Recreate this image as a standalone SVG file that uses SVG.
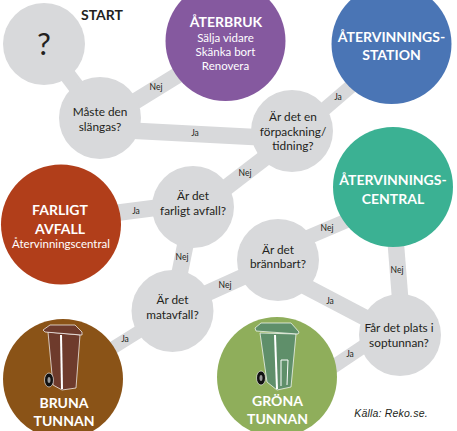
<svg xmlns="http://www.w3.org/2000/svg" width="457" height="431" viewBox="0 0 457 431">
<style>
text{font-family:Lato,"Open Sans","Liberation Sans",sans-serif;text-anchor:middle;fill:#231f20}
.q{font-size:11.800px}
.l{font-size:8.500px}
.t{font-size:14px;font-weight:700;fill:#fff}
.s{font-size:11.500px;fill:#fff}
.g{fill:#d8d9db}
.c line{stroke:#d8d9db;stroke-width:16.500}
.bin{stroke:#fff;stroke-width:.7}
.wheel{fill:#111;stroke:#fff;stroke-width:.6}
</style>
<rect width="457" height="431" fill="#fff"/>
<g id="connectors" class="c">
<line x1="44" y1="44" x2="100" y2="118"/>
<line x1="100" y1="123" x2="225" y2="46"/>
<line x1="100" y1="129" x2="292" y2="139"/>
<line x1="292" y1="137" x2="391" y2="52" style="stroke-width:14"/>
<line x1="292" y1="137" x2="193" y2="213"/>
<line x1="193" y1="203" x2="61" y2="220"/>
<line x1="193" y1="207" x2="172" y2="311"/>
<line x1="172" y1="309" x2="278" y2="261"/>
<line x1="172" y1="311" x2="63" y2="379" style="stroke-width:13"/>
<line x1="278" y1="250" x2="393" y2="201" style="stroke-width:14.500"/>
<line x1="278" y1="272" x2="400" y2="336"/>
<line x1="392" y1="195" x2="403" y2="335"/>
<line x1="385" y1="332" x2="300" y2="389" style="stroke-width:14"/>
</g>
<g id="start"><circle class="g" cx="44" cy="44" r="41"/><text x="44" y="55" style="font-size:31px">?</text><text x="102" y="20" style="font-size:14px;font-weight:700">START</text></g>
<g id="atervinningsstation"><circle cx="391.500" cy="44" r="60" fill="#4a75b5"/><text class="t" x="391.500" y="42">ÅTERVINNINGS-</text><text class="t" x="391.500" y="60">STATION</text></g>
<g id="aterbruk"><circle cx="225.500" cy="41" r="60" fill="#85599f"/><text class="t" x="226" y="27">ÅTERBRUK</text><text class="s" x="225.500" y="42">Sälja vidare</text><text class="s" x="225.500" y="56">Skänka bort</text><text class="s" x="225.500" y="70">Renovera</text></g>
<g id="maste"><circle class="g" cx="100" cy="118" r="41"/><text class="q" x="100" y="116">Måste den</text><text class="q" x="100" y="131">slängas?</text></g>
<g id="forpackning"><circle class="g" cx="292" cy="131" r="41"/><text class="q" x="293" y="121">Är det en</text><text class="q" x="293" y="136">förpackning/</text><text class="q" x="293" y="150">tidning?</text></g>
<g id="atervinningscentral"><circle cx="393" cy="187" r="60" fill="#3bb193"/><text class="t" x="393" y="185">ÅTERVINNINGS-</text><text class="t" x="393" y="204">CENTRAL</text></g>
<g id="farligt"><circle cx="61" cy="224.500" r="60" fill="#b13e1a"/><text class="t" x="60" y="215">FARLIGT</text><text class="t" x="60" y="234">AVFALL</text><text class="s" x="61" y="248">Återvinningscentral</text></g>
<g id="farligt-fraga"><circle class="g" cx="193" cy="207" r="41"/><text class="q" x="193" y="200">Är det</text><text class="q" x="193" y="215">farligt avfall?</text></g>
<g id="brannbart"><circle class="g" cx="278" cy="260" r="41"/><text class="q" x="278" y="254">Är det</text><text class="q" x="278" y="268">brännbart?</text></g>
<g id="matavfall"><circle class="g" cx="172.500" cy="311" r="41"/><text class="q" x="172.500" y="304">Är det</text><text class="q" x="172.500" y="319">matavfall?</text></g>
<g id="plats"><circle class="g" cx="400" cy="335" r="41"/><text class="q" x="399" y="332">Får det plats i</text><text class="q" x="399" y="347">soptunnan?</text></g>
<g id="bruna"><circle cx="63" cy="379" r="60" fill="#8a5317"/>
<path class="bin" d="M48 332L80 335L76 388L62 390L53 385Z" fill="#6e3b2c"/>
<path class="bin" d="M43 330L50 325L75 325L82 332L82 335L45 332Z" fill="#6e3b2c"/>
<line x1="61" y1="335" x2="62" y2="389" stroke="#fff" stroke-width="2"/>
<ellipse class="wheel" cx="49" cy="380" rx="4.500" ry="7"/>
<ellipse cx="49" cy="380" rx="1.500" ry="3" fill="#999"/>
<text class="t" x="64" y="408">BRUNA</text><text class="t" x="64" y="426">TUNNAN</text></g>
<g id="grona"><circle cx="277" cy="377" r="60" fill="#8fae5b"/>
<path class="bin" d="M260 333L296 334L291 387L277 390L267 382Z" fill="#5f8f6a"/>
<path class="bin" d="M255 328L261 323L291 323L299 332L298 334L256 331Z" fill="#5f8f6a"/>
<line x1="275" y1="335" x2="277" y2="389" stroke="#fff" stroke-width="2"/>
<path d="M281 386L281 360L288 360L287 385" fill="none" stroke="#fff" stroke-width="1"/>
<ellipse class="wheel" cx="261" cy="378" rx="4.500" ry="7"/>
<ellipse cx="261" cy="378" rx="1.500" ry="3" fill="#999"/>
<text class="t" x="277.500" y="406">GRÖNA</text><text class="t" x="277.500" y="424">TUNNAN</text></g>
<g id="labels">
<text class="l" x="156" y="90">Nej</text>
<text class="l" x="195" y="136">Ja</text>
<text class="l" x="338" y="100">Ja</text>
<text class="l" x="245" y="176">Nej</text>
<text class="l" x="136" y="214">Ja</text>
<text class="l" x="182" y="260">Nej</text>
<text class="l" x="225" y="288">Nej</text>
<text class="l" x="125" y="342">Ja</text>
<text class="l" x="327" y="231">Nej</text>
<text class="l" x="330" y="304">Ja</text>
<text class="l" x="397" y="273">Nej</text>
<text class="l" x="350" y="357">Ja</text>
</g>
<text x="391" y="417" style="font-family:'Liberation Sans',sans-serif;font-size:10.500px;font-style:italic;letter-spacing:.2px">Källa: Reko.se.</text>
</svg>
